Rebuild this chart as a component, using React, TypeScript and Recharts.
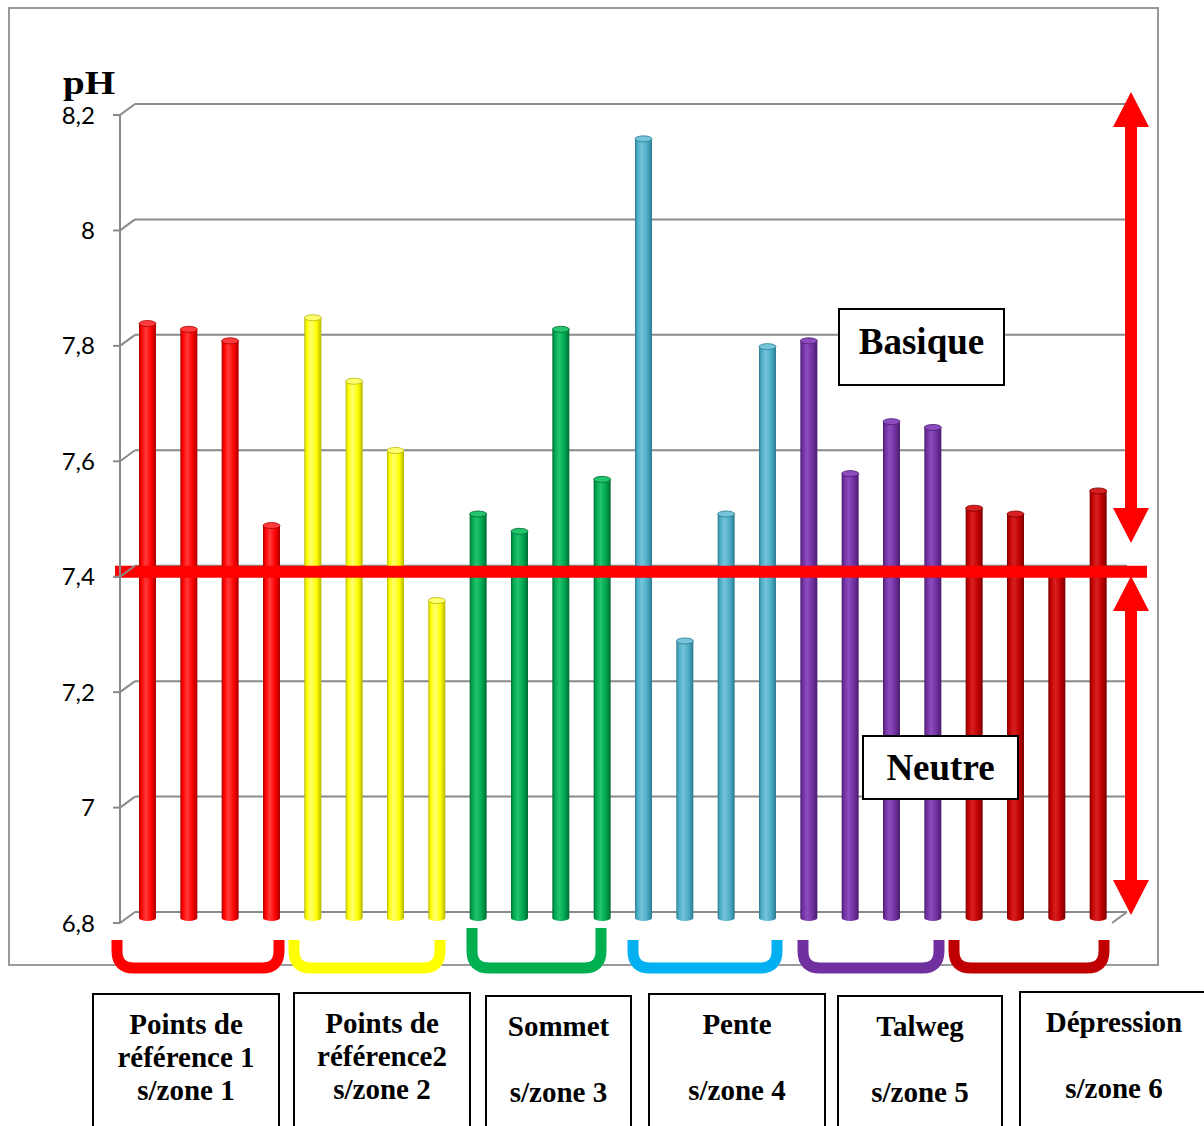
import { Bar, BarChart, CartesianGrid, Cell, ReferenceLine, XAxis, YAxis } from "recharts";

// pH readings, four sampling points per sub-zone
const zone1Ph = [7.83, 7.82, 7.8, 7.48];
const zone2Ph = [7.84, 7.73, 7.61, 7.35];
const zone3Ph = [7.5, 7.47, 7.82, 7.56];
const zone4Ph = [8.15, 7.28, 7.5, 7.79];
const zone5Ph = [7.8, 7.57, 7.66, 7.65];
const zone6Ph = [7.51, 7.5, 7.4, 7.54];

const zoneLabels = [
  ["Points de", "référence 1", "s/zone 1"],
  ["Points de", "référence2", "s/zone 2"],
  ["Sommet", "", "s/zone 3"],
  ["Pente", "", "s/zone 4"],
  ["Talweg", "", "s/zone 5"],
  ["Dépression", "", "s/zone 6"],
];

const phTicks = [6.8, 7, 7.2, 7.4, 7.6, 7.8, 8, 8.2];
const neutralPh = 7.4;

// base / shadow / highlight for each sub-zone
const zoneColors = [
  ["#FF0000", "#A80000", "#FF3a3a"],
  ["#FFFF00", "#B5B500", "#FFFF70"],
  ["#00A651", "#006B33", "#22C46C"],
  ["#4BACC6", "#2C7A90", "#74C4DA"],
  ["#7030A0", "#4A1C6C", "#8C4CBE"],
  ["#C00000", "#7A0000", "#D82020"],
];
const bracketColors = ["#FF0000", "#FFFF00", "#00B050", "#00B0F0", "#7030A0", "#C00000"];

const zones = [zone1Ph, zone2Ph, zone3Ph, zone4Ph, zone5Ph, zone6Ph];
const rows = zones.flatMap((vals, z) =>
  vals.map((ph, i) => ({ point: `${z + 1}.${i + 1}`, zone: z, ph }))
);

// 3D depth shift of the columns and the back wall
const DEPTH_X = 7;
const DEPTH_Y = -5;
const WALL_X = 15;
const WALL_Y = -11;
const GRID = "#8a8a8a";

const Cylinder = (props: any) => {
  const { x, y, width, height, payload } = props;
  if (height == null || height <= 0) return null;
  const x0 = x + DEPTH_X;
  const y0 = y + DEPTH_Y;
  const rx = width / 2;
  const ry = 3;
  const [, dark, light] = zoneColors[payload.zone];
  return (
    <g>
      <path
        d={`M${x0},${y0} L${x0},${y0 + height} A${rx},${ry} 0 0 0 ${x0 + width},${y0 + height} L${x0 + width},${y0} Z`}
        fill={`url(#cyl-${payload.zone})`}
      />
      <ellipse cx={x0 + rx} cy={y0} rx={rx} ry={ry} fill={light} stroke={dark} strokeWidth={0.8} />
    </g>
  );
};

const PhTick = (props: any) => {
  const { x, y, payload } = props;
  const ax = x + 25;
  return (
    <g>
      <text x={x} y={y} dy="0.36em" textAnchor="end" fontFamily="Lato" fontSize={24} fill="#000">
        {String(payload.value).replace(".", ",")}
      </text>
      <line x1={ax} y1={y} x2={ax + WALL_X} y2={y + WALL_Y} stroke={GRID} strokeWidth={2} />
    </g>
  );
};

const NeutralLine = (props: any) => {
  const { x1, x2, y1 } = props;
  return <line x1={x1 - 5} x2={x2 + 35} y1={y1 + DEPTH_Y} y2={y1 + DEPTH_Y} stroke="#FF0000" strokeWidth={12} />;
};

// bracket under each sub-zone: left arm x, right arm x, top y
const brackets = [
  [117, 279, 940],
  [294, 440, 940],
  [472, 601, 928],
  [633, 777, 940],
  [803, 939, 940],
  [954, 1104, 940],
];

// label boxes: left, top, width
const labelBoxes = [
  [92, 993, 188],
  [293, 992, 178],
  [485, 995, 147],
  [648, 993, 178],
  [837, 995, 166],
  [1019, 991, 190],
];

const arrow = (cx: number, y1: number, y2: number, upHead: boolean, downHead: boolean) => {
  const hw = 18;
  const hl = 35;
  const sw = 6;
  const top = upHead ? y1 + hl : y1;
  const bot = downHead ? y2 - hl : y2;
  return (
    <g fill="#FF0000">
      <rect x={cx - sw} y={top} width={sw * 2} height={bot - top} />
      {upHead && <polygon points={`${cx},${y1} ${cx - hw},${y1 + hl} ${cx + hw},${y1 + hl}`} />}
      {downHead && <polygon points={`${cx},${y2} ${cx - hw},${y2 - hl} ${cx + hw},${y2 - hl}`} />}
    </g>
  );
};

const serif = "'Liberation Serif', 'Times New Roman', serif";

export default function App() {
  return (
    <div
      style={{
        position: "absolute",
        left: 0,
        top: 0,
        width: 1204,
        height: 1126,
        overflow: "hidden",
        background: "#fff",
      }}
    >
      <style>{`.recharts-cartesian-grid{transform:translate(${WALL_X}px,${WALL_Y}px)}`}</style>
      <div style={{ position: "absolute", left: 0, top: 0 }}>
        <BarChart
          width={1204}
          height={980}
          data={rows}
          margin={{ top: 115, right: 92, left: 60, bottom: 57 }}
          barCategoryGap={12}
        >
          <defs>
            {zoneColors.map(([base, dark, light], z) => (
              <linearGradient key={z} id={`cyl-${z}`} x1="0" y1="0" x2="1" y2="0">
                <stop offset="0%" stopColor={dark} />
                <stop offset="14%" stopColor={base} />
                <stop offset="40%" stopColor={light} />
                <stop offset="72%" stopColor={base} />
                <stop offset="100%" stopColor={dark} />
              </linearGradient>
            ))}
          </defs>
          <CartesianGrid vertical={false} stroke={GRID} strokeWidth={2} />
          <XAxis dataKey="point" tick={false} tickLine={false} height={0} axisLine={{ stroke: GRID, strokeWidth: 2 }} />
          <YAxis
            width={60}
            domain={[6.8, 8.2]}
            ticks={phTicks}
            interval={0}
            tickSize={7}
            tickMargin={18}
            tick={<PhTick />}
            tickLine={{ stroke: GRID, strokeWidth: 2 }}
            axisLine={{ stroke: GRID, strokeWidth: 2 }}
          />
          <Bar dataKey="ph" barSize={17} shape={<Cylinder />} isAnimationActive={false}>
            {rows.map((r) => (
              <Cell key={r.point} fill={zoneColors[r.zone][0]} />
            ))}
          </Bar>
          <ReferenceLine y={neutralPh} shape={<NeutralLine />} ifOverflow="visible" />
        </BarChart>
      </div>

      <svg
        width={1204}
        height={1126}
        style={{ position: "absolute", left: 0, top: 0, pointerEvents: "none" }}
      >
        <rect x={9} y={8} width={1149} height={957} fill="none" stroke="#9a9a9a" strokeWidth={2} />
        <line x1={1112} y1={923} x2={1127} y2={912} stroke={GRID} strokeWidth={2} />
        <text x={0} y={0} transform="translate(63,94) scale(1.15,1)" fontFamily={serif} fontWeight="bold" fontSize={34}>
          pH
        </text>
        {arrow(1131, 92, 543, true, true)}
        {arrow(1131, 576, 915, true, true)}
        {brackets.map(([l, r, t], i) => {
          const b = 968;
          const rad = 17;
          return (
            <path
              key={i}
              d={`M${l},${t} L${l},${b - rad} Q${l},${b} ${l + rad},${b} L${r - rad},${b} Q${r},${b} ${r},${b - rad} L${r},${t}`}
              fill="none"
              stroke={bracketColors[i]}
              strokeWidth={11}
            />
          );
        })}
      </svg>

      <div
        style={{
          position: "absolute",
          left: 838,
          top: 308,
          width: 167,
          height: 78,
          boxSizing: "border-box",
          border: "2px solid #000",
          background: "#fff",
          fontFamily: serif,
          fontWeight: "bold",
          fontSize: 37,
          lineHeight: "64px",
          textAlign: "center",
        }}
      >
        Basique
      </div>
      <div
        style={{
          position: "absolute",
          left: 862,
          top: 735,
          width: 157,
          height: 65,
          boxSizing: "border-box",
          border: "2px solid #000",
          background: "#fff",
          fontFamily: serif,
          fontWeight: "bold",
          fontSize: 37,
          lineHeight: "62px",
          textAlign: "center",
        }}
      >
        Neutre
      </div>

      {labelBoxes.map(([l, t, w], i) => (
        <div
          key={i}
          style={{
            position: "absolute",
            left: l,
            top: t,
            width: w,
            height: 160,
            boxSizing: "border-box",
            border: "2px solid #000",
            paddingTop: 13,
            fontFamily: serif,
            fontWeight: "bold",
            fontSize: 29,
            lineHeight: "33px",
            textAlign: "center",
          }}
        >
          {zoneLabels[i].map((line, k) => (
            <div key={k} style={{ height: 33 }}>
              {line}
            </div>
          ))}
        </div>
      ))}
    </div>
  );
}
